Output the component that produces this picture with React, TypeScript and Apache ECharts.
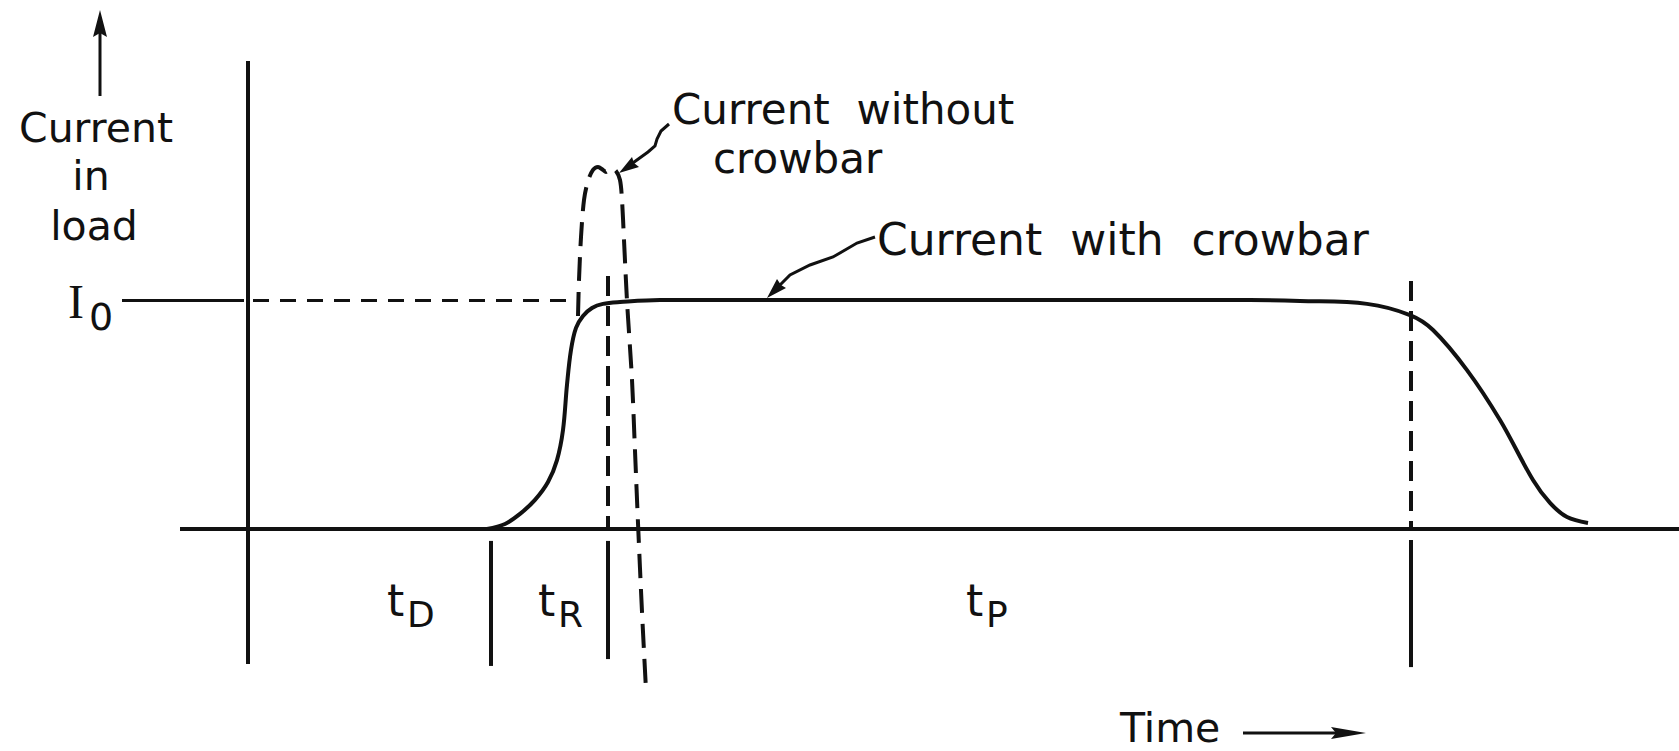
import React, { useEffect, useRef } from "react";
import * as echarts from "echarts";

// Time axis (arbitrary units, 0 = start of trigger) and current (fraction of I0)
const timeRange = [-24.8, 143.1];
const currentRange = [-0.9694, 2.31];

// Phase boundaries: start, end of delay tD, end of rise tR, end of pulse tP
const phaseBoundaries = [0, 24.3, 36.0, 116.3];
const phaseLabels = ["D", "R", "P"];
const I0 = 1.0;

// Current with crowbar
const crowbarTime = [23.9, 25.7, 27.2, 28.7, 30.0, 30.9, 31.5, 31.9, 32.3, 32.8, 33.5, 34.4, 35.5, 37.2, 41.2, 75.2, 100.2, 105.2, 111.9, 116.2, 118.5, 121.9, 125.2, 128.5, 130.2, 131.9, 134.0];
const crowbarCurrent = [0, 0.022, 0.066, 0.127, 0.205, 0.301, 0.432, 0.63, 0.782, 0.878, 0.93, 0.965, 0.983, 0.991, 1.0, 1.0, 1.0, 0.996, 0.983, 0.934, 0.869, 0.694, 0.476, 0.214, 0.114, 0.052, 0.026];

// Current without crowbar
const noCrowbarTime = [33.0, 33.1, 33.3, 33.6, 34.0, 34.5, 35.0, 35.5, 35.8, 36.3, 36.8, 37.2, 37.4, 37.6, 37.9, 38.4, 38.7, 39.0, 39.4, 39.8];
const noCrowbarCurrent = [0.93, 1.087, 1.275, 1.437, 1.52, 1.568, 1.581, 1.568, 1.559, 1.576, 1.563, 1.524, 1.437, 1.262, 0.996, 0.651, 0.341, 0.026, -0.362, -0.703];

const INK = "#111";
const FONT = '"DejaVu Sans", sans-serif';

export default function App() {
  const ref = useRef<HTMLDivElement>(null);

  useEffect(() => {
    if (!ref.current) return;
    const chart = echarts.init(ref.current, undefined, { renderer: "svg" });

    const crowbarData = crowbarTime.map((t, i) => [t, crowbarCurrent[i]]);
    const noCrowbarData = noCrowbarTime.map((t, i) => [t, noCrowbarCurrent[i]]);

    const solid = (w: number) => ({ color: INK, width: w, type: "solid" as const });
    const dashed = (w: number, d: number[]) => ({ color: INK, width: w, type: d });

    const [t0, tD, tR, tP] = phaseBoundaries;
    const structLines: any[] = [
      // time axis
      [{ coord: [-6.8, 0], lineStyle: solid(4) }, { coord: [timeRange[1], 0] }],
      // current axis
      [{ coord: [t0, 2.044], lineStyle: solid(4) }, { coord: [t0, -0.59] }],
      // I0 tick and dashed level
      [{ coord: [-12.6, I0], lineStyle: solid(3) }, { coord: [-0.4, I0] }],
      [{ coord: [0.5, I0], lineStyle: dashed(3, [16, 11]) }, { coord: [33.0, I0] }],
      // tD | tR separator
      [{ coord: [tD, -0.052], lineStyle: solid(4) }, { coord: [tD, -0.598] }],
      // tR | tP separator
      [{ coord: [tR, 1.105], lineStyle: dashed(4, [20, 10]) }, { coord: [tR, 0] }],
      [{ coord: [tR, -0.052], lineStyle: solid(4) }, { coord: [tR, -0.568] }],
      // end of tP
      [{ coord: [tP, 1.083], lineStyle: dashed(4, [20, 10]) }, { coord: [tP, 0] }],
      [{ coord: [tP, -0.048], lineStyle: solid(4) }, { coord: [tP, -0.603] }],
    ];

    const text = (s: string, x: number, y: number, size: number, family = FONT, align = "left") => ({
      type: "text",
      x,
      y,
      style: {
        text: s,
        font: `${size}px ${family}`,
        fill: INK,
        align,
        verticalAlign: "middle",
      },
    });

    const subLabelX = [387, 538, 966];
    const graphics: any[] = [
      // y axis title + arrow
      { type: "line", shape: { x1: 100, y1: 96, x2: 100, y2: 30 }, style: { stroke: INK, lineWidth: 3 } },
      { type: "polygon", shape: { points: [[100, 10], [93, 37], [100, 33], [107, 37]] }, style: { fill: INK } },
      text("Current", 96, 128, 41, FONT, "center"),
      text("in", 91, 176, 41, FONT, "center"),
      text("load", 94, 226, 41, FONT, "center"),
      text("I", 68, 301, 48, '"Liberation Serif", serif'),
      text("0", 89, 317, 38),
      // annotations
      text("Current  without", 672, 109, 42),
      text("crowbar", 713, 158, 42),
      text("Current  with  crowbar", 877, 239, 44),
      { type: "polyline", shape: { points: [[669, 124], [661, 131], [657, 139], [655, 146], [648, 152], [630, 165]] }, style: { stroke: INK, lineWidth: 3, fill: "none" } },
      { type: "polygon", shape: { points: [[619, 173], [632, 157], [634, 163], [639, 167]] }, style: { fill: INK } },
      { type: "polyline", shape: { points: [[875, 237], [857, 243], [833, 257], [810, 265], [790, 275], [778, 287]] }, style: { stroke: INK, lineWidth: 3, fill: "none" } },
      { type: "polygon", shape: { points: [[767, 298], [777, 279], [781, 285], [786, 288]] }, style: { fill: INK } },
      // phase labels
      ...phaseLabels.flatMap((lab, i) => [
        text("t", subLabelX[i], 600, 44),
        text(lab, subLabelX[i] + 20, 614, 36),
      ]),
      // time axis title + arrow
      text("Time", 1120, 728, 41),
      { type: "line", shape: { x1: 1243, y1: 733, x2: 1340, y2: 733 }, style: { stroke: INK, lineWidth: 3 } },
      { type: "polygon", shape: { points: [[1366, 733], [1331, 727], [1336, 733], [1331, 739]] }, style: { fill: INK } },
    ];

    chart.setOption({
      animation: false,
      backgroundColor: "#ffffff",
      grid: { left: 0, right: 0, top: 0, bottom: 0 },
      xAxis: { type: "value", min: timeRange[0], max: timeRange[1], show: false },
      yAxis: { type: "value", min: currentRange[0], max: currentRange[1], show: false },
      series: [
        {
          name: "Structure",
          type: "line",
          data: [],
          silent: true,
          markLine: {
            silent: true,
            symbol: ["none", "none"],
            label: { show: false },
            data: structLines,
          },
        },
        {
          name: "Current with crowbar",
          type: "line",
          data: crowbarData,
          smooth: 0.35,
          showSymbol: false,
          lineStyle: { color: INK, width: 4 },
        },
        {
          name: "Current without crowbar",
          type: "line",
          data: noCrowbarData,
          smooth: 0.3,
          showSymbol: false,
          lineStyle: { color: INK, width: 4, type: [24, 11] },
        },
      ],
      graphic: graphics,
    });

    return () => chart.dispose();
  }, []);

  return (
    <div
      ref={ref}
      style={{ position: "absolute", left: 0, top: 0, width: 1679, height: 751, background: "#fff" }}
    />
  );
}
